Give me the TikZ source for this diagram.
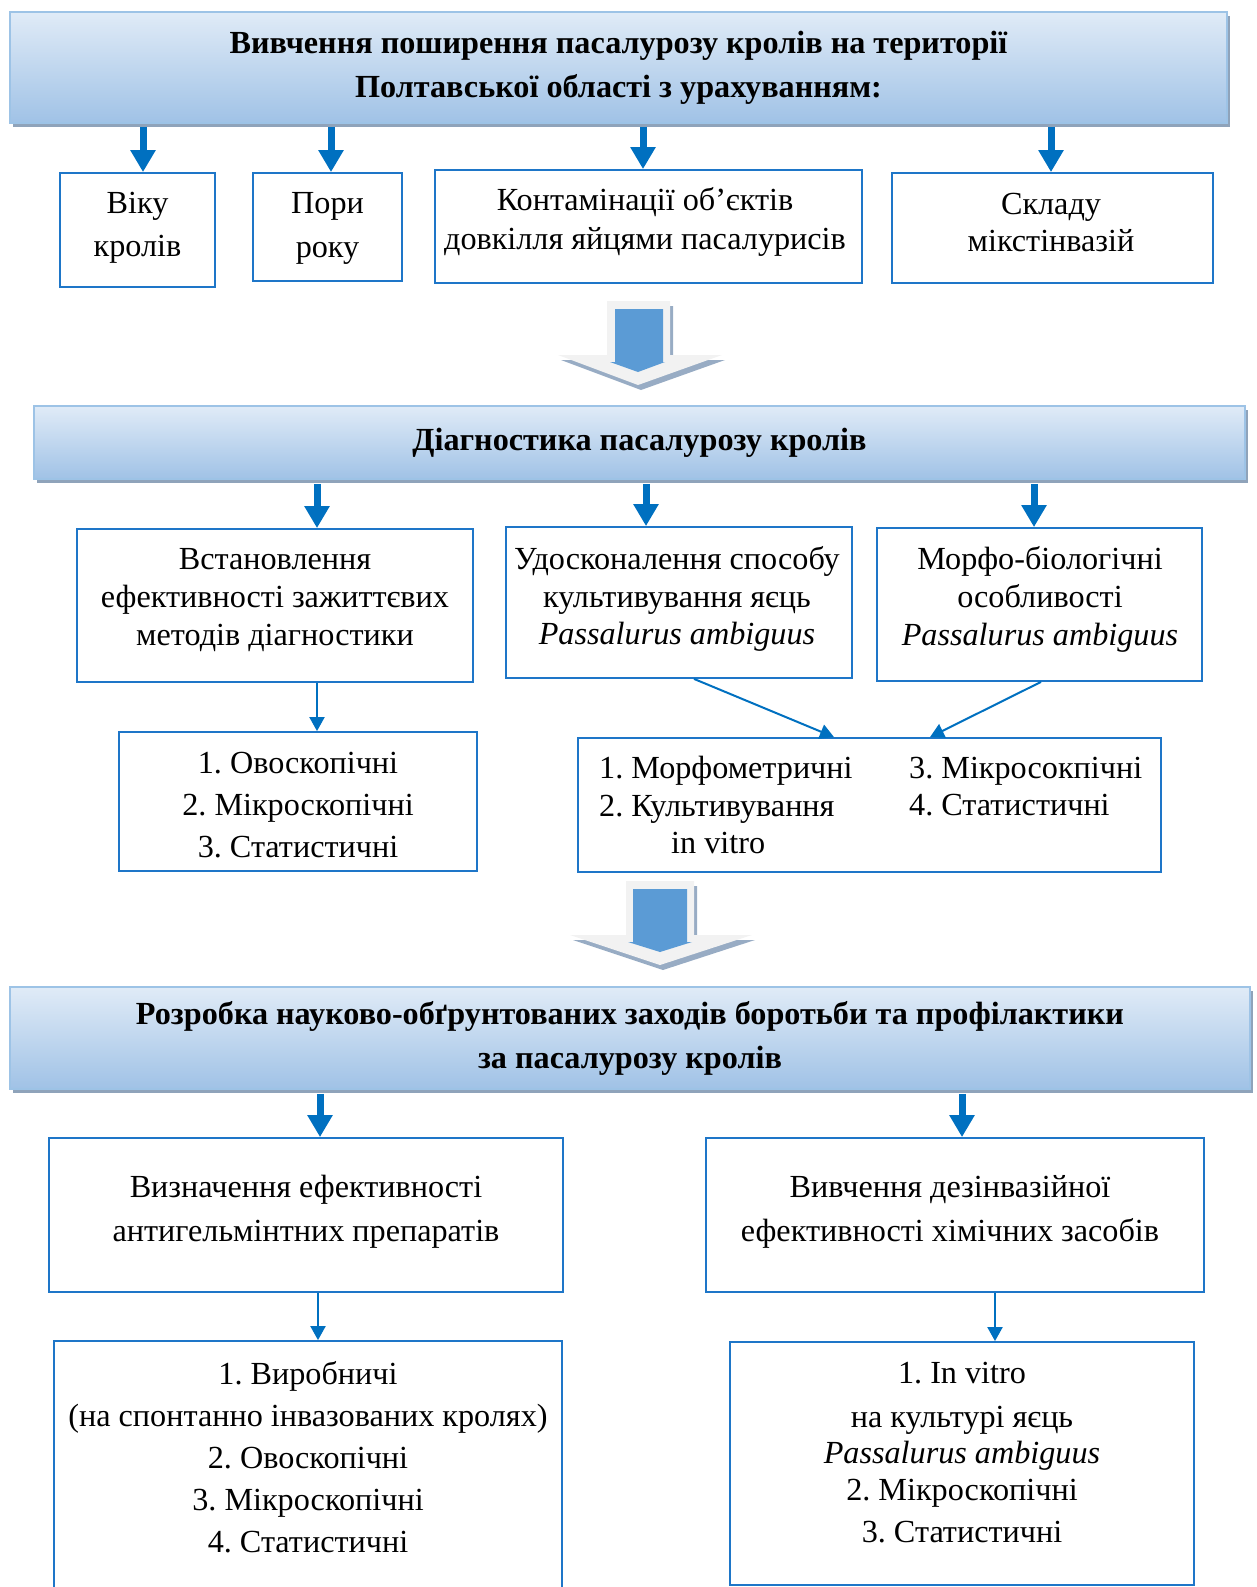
\documentclass[tikz,border=0pt]{standalone}
\usepackage{fontspec}
\setmainfont{Liberation Serif}
\usetikzlibrary{arrows.meta,shadows,calc}
\definecolor{bbord}{RGB}{30,118,200}
\definecolor{arrb}{RGB}{0,112,192}
\definecolor{htop}{RGB}{224,235,247}
\definecolor{hmid}{RGB}{208,224,242}
\definecolor{hbot}{RGB}{160,194,230}
\definecolor{hline}{RGB}{157,195,230}
\definecolor{hshad}{RGB}{143,163,186}
\definecolor{bigfill}{RGB}{242,242,242}
\definecolor{bigshad}{RGB}{152,172,196}
\definecolor{bigblue}{RGB}{91,155,213}
\frenchspacing
\newcommand{\fz}[1]{\fontsize{32.2}{#1}\selectfont}
\begin{document}
\begin{tikzpicture}[x=1pt,y=-1pt,
  hdr/.style={draw=hline, line width=1.5pt, top color=htop, middle color=hmid, bottom color=hbot,
    drop shadow={shadow xshift=3pt, shadow yshift=-4pt, fill=hshad, opacity=1},
    align=center, inner sep=0pt, font=\fz{44}\bfseries},
  box/.style={draw=bbord, line width=1.8pt, fill=white, inner sep=0pt},
  txt/.style={align=center, inner sep=0pt},
  tharr/.style={draw=arrb, line width=7pt, -{Triangle[width=24pt,length=22pt]}},
  tnarr/.style={draw=arrb, line width=2pt, -{Triangle[width=15pt,length=14pt]}}
]
\useasboundingbox (0,0) rectangle (1256,1587);
\clip (0,0) rectangle (1256,1587);

% ---------- headers ----------
\node[hdr, minimum width=1217pt, minimum height=111pt] (h1) at (618.5,67.5)
  {Вивчення поширення пасалурозу кролів на території\\Полтавської області з урахуванням:};
\node[hdr, minimum width=1211pt, minimum height=73pt] (h2) at (639.5,442.5)
  {Діагностика пасалурозу кролів};
\node[hdr, minimum width=1240pt, minimum height=102pt] (h3) at (630,1038)
  {Розробка науково-обґрунтованих заходів боротьби та профілактики\\за пасалурозу кролів};

% ---------- row 1 boxes ----------
\node[box, minimum width=155pt, minimum height=114pt] (vik) at (137.5,230) {};
\node[box, minimum width=149pt, minimum height=108pt] (pori) at (327.5,227) {};
\node[box, minimum width=427pt, minimum height=113pt] (kont) at (648.5,226.5) {};
\node[box, minimum width=321pt, minimum height=110pt] (skl) at (1052.5,228) {};
\node[txt, font=\fz{43}] (vikt) at (137.5,228) {Віку\\кролів};
\node[txt, font=\fz{44}] (porit) at (327.5,228) {Пори\\року};
\node[txt, font=\fz{39}] (kontt) at (645,222) {Контамінації об’єктів\\довкілля яйцями пасалурисів};
\node[txt, font=\fz{37}] (sklt) at (1051,222) {Складу\\мікстінвазій};

% ---------- big arrow 1 ----------
\fill[bigshad] (610,306) -- (673,306) -- (673,360) -- (725,360) -- (641,390) -- (561,360) -- (610,360) -- cycle;
\fill[bigfill] (607,301) -- (670,301) -- (670,355) -- (722,355) -- (638,385) -- (558,355) -- (607,355) -- cycle;
\fill[bigblue] (615,309) -- (663,309) -- (663,362) -- (665,362) -- (638,372) -- (610,362) -- (615,362) -- cycle;

% ---------- row 2 boxes ----------
\node[box, minimum width=396pt, minimum height=153pt] (vst) at (275,605.5) {};
\node[box, minimum width=346pt, minimum height=151pt] (udo) at (679,602.5) {};
\node[box, minimum width=325pt, minimum height=153pt] (mor) at (1039.5,604.5) {};
\node[txt, font=\fz{38}] (vstt) at (275,600) {Встановлення\\ефективності зажиттєвих\\методів діагностики};
\node[txt, font=\fz{37.5}] (udot) at (677,599) {Удосконалення способу\\культивування яєць\\\textit{Passalurus ambiguus}};
\node[txt, font=\fz{38}] (mort) at (1040,599.5) {Морфо-біологічні\\особливості\\\textit{Passalurus ambiguus}};

\node[box, minimum width=358pt, minimum height=139pt] (l1) at (298,801.5) {};
\node[box, minimum width=583pt, minimum height=134pt] (l2) at (869.5,805) {};
\node[txt, font=\fz{42}] (l1t) at (298,805) {1. Овоскопічні\\2. Мікроскопічні\\3. Статистичні};
\node[txt, align=left, anchor=west, font=\fz{37.5}] (l2a) at (599,805) {1. Морфометричні\\2. Культивування\\\hspace*{72pt}in vitro};
\node[txt, align=left, anchor=west, font=\fz{37}] (l2b) at (909,786.5) {3. Мікросокпічні\\4. Статистичні};

% ---------- big arrow 2 ----------
\fill[bigshad] (629,886) -- (697,886) -- (697,940) -- (755,940) -- (663,970) -- (573,940) -- (629,940) -- cycle;
\fill[bigfill] (626,881) -- (694,881) -- (694,935) -- (752,935) -- (660,965) -- (570,935) -- (626,935) -- cycle;
\fill[bigblue] (633,889) -- (687,889) -- (687,942) -- (692,942) -- (660,952) -- (628,942) -- (633,942) -- cycle;

% ---------- row 3 boxes ----------
\node[box, minimum width=514pt, minimum height=154pt] (viz) at (306,1215) {};
\node[box, minimum width=498pt, minimum height=154pt] (viv) at (955,1215) {};
\node[txt, font=\fz{44}] (vizt) at (306,1212) {Визначення ефективності\\антигельмінтних препаратів};
\node[txt, font=\fz{44}] (vivt) at (950,1212) {Вивчення дезінвазійної\\ефективності хімічних засобів};

\node[box, minimum width=508pt, minimum height=279pt] (l3) at (308,1480.5) {};
\node[box, minimum width=464pt, minimum height=243pt] (l4) at (962,1463.5) {};
\node[txt, font=\fz{42}] (l3t) at (308,1457.5) {1. Виробничі\\(на спонтанно інвазованих кролях)\\2. Овоскопічні\\3. Мікроскопічні\\4. Статистичні};
\node[txt, font=\fz{42}] (l4t) at (962,1453) {1. In vitro\\[2pt]на культурі яєць\\[-6pt]\textit{Passalurus ambiguus}\\[-5pt]2. Мікроскопічні\\3. Статистичні};

% ---------- connectors ----------
\draw[tharr] ($(vik.north |- h1.south)+(5.5,3)$) -- ($(vik.north)+(5.5,0)$);
\draw[tharr] ($(pori.north |- h1.south)+(3.5,3)$) -- ($(pori.north)+(3.5,0)$);
\draw[tharr] ($(kont.north |- h1.south)+(-5.5,3)$) -- ($(kont.north)+(-5.5,0)$);
\draw[tharr] ($(skl.north |- h1.south)+(-1.5,3)$) -- ($(skl.north)+(-1.5,0)$);

\draw[tharr] ($(vst.north |- h2.south)+(42,4)$) -- ($(vst.north)+(42,0)$);
\draw[tharr] ($(udo.north |- h2.south)+(-33,4)$) -- ($(udo.north)+(-33,0)$);
\draw[tharr] ($(mor.north |- h2.south)+(-5.5,4)$) -- ($(mor.north)+(-5.5,0)$);

\draw[tharr] ($(viz.north |- h3.south)+(14,4)$) -- ($(viz.north)+(14,0)$);
\draw[tharr] ($(viv.north |- h3.south)+(7,4)$) -- ($(viv.north)+(7,0)$);

\draw[tnarr] ($(vst.south)+(42,0)$) -- ($(l1.north)+(19,0)$);
\draw[tnarr] ($(udo.south)+(15,0)$) -- ($(l2.north)+(-35.5,0)$);
\draw[tnarr] ($(mor.south)+(1.5,0)$) -- ($(l2.north)+(60.5,0)$);
\draw[tnarr] ($(viz.south)+(12,0)$) -- ($(l3.north)+(10,0)$);
\draw[tnarr] ($(viv.south)+(40,0)$) -- ($(l4.north)+(33,0)$);
\end{tikzpicture}
\end{document}
